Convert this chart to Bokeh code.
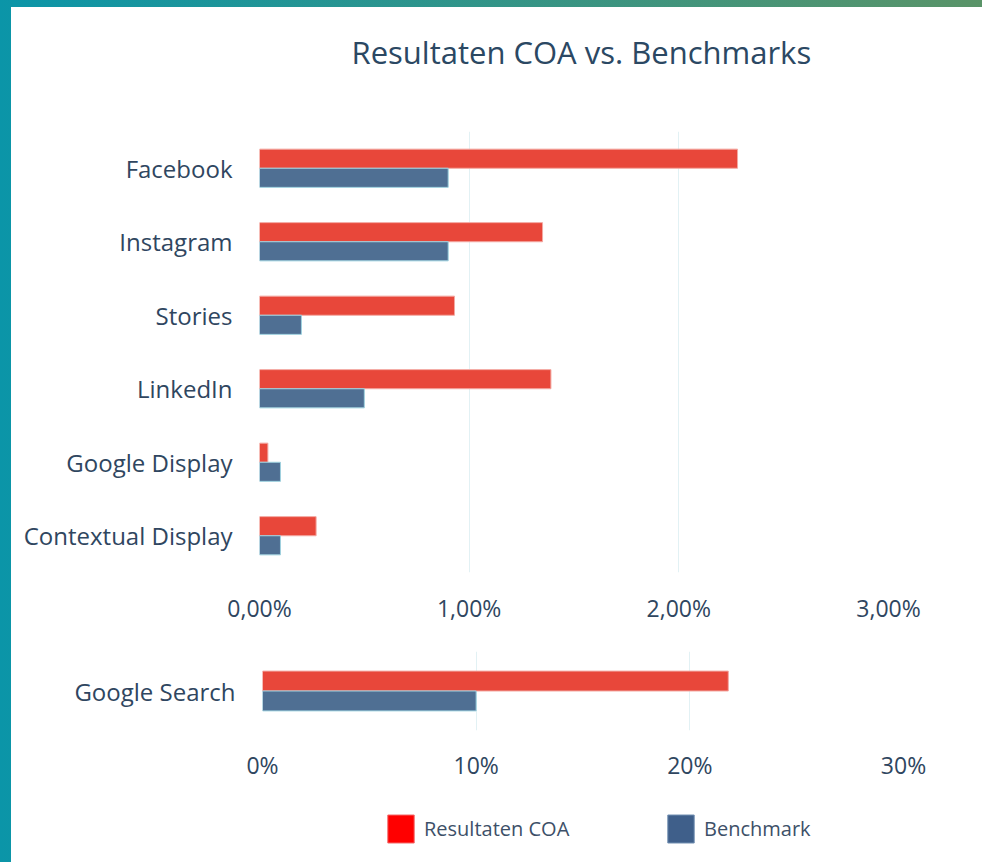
from bokeh.plotting import figure
from bokeh.models import FactorRange, Range1d, FixedTicker, Legend, LegendItem
from bokeh.transform import dodge
from bokeh.layouts import column, row
from bokeh.embed import file_html
from bokeh.resources import INLINE

# ---- data ----
categories = ["Facebook", "Instagram", "Stories", "LinkedIn", "Google Display", "Contextual Display"]
coa_values = [2.28, 1.35, 0.93, 1.39, 0.04, 0.27]
bench_values = [0.90, 0.90, 0.20, 0.50, 0.10, 0.10]

search_categories = ["Google Search"]
search_coa_values = [21.8]
search_bench_values = [10.0]

top_ticks = [0, 1, 2, 3]
top_tick_labels = ["0,00%", "1,00%", "2,00%", "3,00%"]
bottom_ticks = [0, 10, 20, 30]
bottom_tick_labels = ["0%", "10%", "20%", "30%"]

series_names = ["Resultaten COA", "Benchmark"]
title_text = "Resultaten COA vs. Benchmarks"

# ---- styles ----
FONT = "Open Sans"
TXT = "#2f4660"
RED = "#e8473a"
RED_LINE = "#f3a9a2"
BLUE = "#4f6f93"
BLUE_LINE = "#9fd2df"
GRID = "#e2f1f4"
W = 971


def style_axes(p, ticks, labels, standoff):
    p.xaxis.ticker = FixedTicker(ticks=ticks)
    p.xaxis.major_label_overrides = {t: l for t, l in zip(ticks, labels)}
    for ax in (p.xaxis[0], p.yaxis[0]):
        ax.axis_line_color = None
        ax.major_tick_line_color = None
        ax.minor_tick_line_color = None
        ax.major_tick_out = 0
        ax.major_tick_in = 0
        ax.major_label_text_font = FONT
        ax.major_label_text_color = TXT
    p.xaxis.major_label_text_font_size = "23px"
    p.xaxis.major_label_standoff = standoff
    p.yaxis.major_label_text_font_size = "24px"
    p.yaxis.major_label_standoff = 27
    p.xgrid.grid_line_color = GRID
    p.xgrid.grid_line_width = 1
    p.ygrid.grid_line_color = None
    p.outline_line_color = None


# ---- title strip ----
p0 = figure(width=W, height=110, output_backend="svg", toolbar_location=None,
            x_range=Range1d(0, 1), y_range=Range1d(0, 1),
            x_axis_location=None, y_axis_location=None,
            min_border_left=0, min_border_right=0, min_border_top=0, min_border_bottom=0)
p0.xgrid.visible = False
p0.ygrid.visible = False
p0.outline_line_color = None
p0.title.text = title_text
p0.title.align = "left"
p0.title.offset = 340
p0.title.text_font = FONT
p0.title.text_font_size = "31px"
p0.title.text_font_style = "normal"
p0.title.text_color = "#2b4863"
p0.title.standoff = 43

# ---- top chart ----
p1 = figure(width=W, height=522, output_backend="svg", toolbar_location=None,
            y_range=FactorRange(factors=categories[::-1], range_padding=0),
            x_range=Range1d(0, 3),
            min_border_left=248, min_border_right=94, min_border_top=14, min_border_bottom=67)
src1 = dict(cat=categories, coa=coa_values, bench=bench_values)
p1.hbar(y=dodge("cat", 0.13, range=p1.y_range), right="coa", left=0, height=0.26,
        source=src1, fill_color=RED, line_color=RED_LINE, line_width=1)
p1.hbar(y=dodge("cat", -0.13, range=p1.y_range), right="bench", left=0, height=0.26,
        source=src1, fill_color=BLUE, line_color=BLUE_LINE, line_width=1)
style_axes(p1, top_ticks, top_tick_labels, 19)

# ---- bottom chart ----
p2 = figure(width=W, height=160, output_backend="svg", toolbar_location=None,
            y_range=FactorRange(factors=search_categories, range_padding=0),
            x_range=Range1d(0, 30),
            min_border_left=251, min_border_right=79, min_border_top=12, min_border_bottom=69)
src2 = dict(cat=search_categories, coa=search_coa_values, bench=search_bench_values)
p2.hbar(y=dodge("cat", 0.126, range=p2.y_range), right="coa", left=0, height=0.252,
        source=src2, fill_color=RED, line_color=RED_LINE, line_width=1)
p2.hbar(y=dodge("cat", -0.126, range=p2.y_range), right="bench", left=0, height=0.252,
        source=src2, fill_color=BLUE, line_color=BLUE_LINE, line_width=1)
style_axes(p2, bottom_ticks, bottom_tick_labels, 18)

# ---- legend strip (legend colours differ from bar colours in the reference) ----
p3 = figure(width=W, height=63, output_backend="svg", toolbar_location=None,
            x_range=Range1d(0, 1), y_range=Range1d(0, 1),
            x_axis_location=None, y_axis_location=None,
            min_border_left=0, min_border_right=0, min_border_top=0, min_border_bottom=0)
p3.xgrid.visible = False
p3.ygrid.visible = False
p3.outline_line_color = None
# legend proxies: one off-range bar each, only their swatches show in the legend
proxy = dict(y=[-5], left=[0], right=[1])
leg_red = p3.hbar(y="y", left="left", right="right", height=0.1, source=proxy,
                  fill_color="#ff0000", line_color="#f26a6a")
leg_blue = p3.hbar(y="y", left="left", right="right", height=0.1, source=proxy,
                   fill_color="#3f5f8a", line_color="#7390b2")
legend = Legend(items=[LegendItem(label=series_names[0], renderers=[leg_red]),
                       LegendItem(label=series_names[1], renderers=[leg_blue])],
                orientation="horizontal", location=(373, 16),
                padding=0, margin=0, spacing=0, border_line_alpha=0,
                background_fill_alpha=0, glyph_width=33, glyph_height=35,
                label_standoff=7, label_width=240, label_height=35,
                label_text_font=FONT, label_text_font_size="20px",
                label_text_color="#3d5068")
p3.add_layout(legend, "center")

inner = column(row(p0), row(p1), row(p2), row(p3), styles={"background": "#ffffff"})
layout = column(inner,
                styles={"background": "linear-gradient(to right, #0b95a8, #5a9468)",
                        "padding": "7px 0px 0px 11px"})
open("out.html", "w").write(file_html(layout, INLINE))
